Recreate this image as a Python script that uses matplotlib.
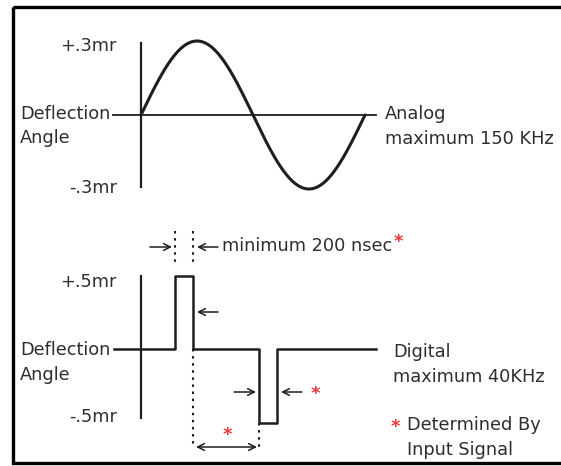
import numpy as np
import matplotlib
matplotlib.use("Agg")
import matplotlib.pyplot as plt
from matplotlib.patches import Rectangle

# analog signal: 150 kHz sine, +/-0.3 mr, one period (time in us)
analog_freq_khz = 150.0
analog_amp = 0.3
analog_t = np.linspace(0, 1000.0 / analog_freq_khz, 400)
analog_v = analog_amp * np.sin(2 * np.pi * analog_freq_khz / 1000.0 * analog_t)
analog_axis_t = [-0.83, 6.99]      # horizontal reference line
analog_axis_v = [-0.29, 0.29]      # vertical axis

# digital signal: step waveform (time in us, level in mr)
digital_t = [-0.30, 0.38, 0.38, 0.58, 0.58, 1.31, 1.31, 1.51, 1.51, 2.61]
digital_v = [0.0, 0.0, 0.5, 0.5, 0.0, 0.0, -0.5, -0.5, 0.0, 0.0]
digital_axis_v = [-0.47, 0.5]

fs = 12.8
tc = '#2e2e2e'
lc = '#1e1e1e'
red = '#e53838'

fig = plt.figure(figsize=(5.61, 4.66), dpi=100)

# pixel canvas for frame, labels and arrows
ax = fig.add_axes([0, 0, 1, 1])
ax.set_xlim(0, 561)
ax.set_ylim(466, 0)
ax.axis('off')


def panel(x0, y0, sx, sy):
    # axes whose data coordinates map onto the pixel canvas
    a = fig.add_axes([0, 0, 1, 1])
    a.set_xlim(-x0 / sx, (561 - x0) / sx)
    a.set_ylim((y0 - 466) / sy, y0 / sy)
    a.axis('off')
    a.patch.set_visible(False)
    return a


# top panel
axt = panel(141, 115, 33.6, 246.7)
axt.plot(analog_t, analog_v, color=lc, lw=2.2, solid_capstyle='round')
axt.plot(analog_axis_t, [0, 0], color=lc, lw=1.3)
axt.plot([0, 0], analog_axis_v, color=lc, lw=1.6)

# bottom panel
axb = panel(141, 349, 90.0, 147.0)
axb.plot(digital_t, digital_v, color=lc, lw=1.8)
axb.plot([0, 0], digital_axis_v, color=lc, lw=1.6)
dots = dict(color=lc, lw=1.5, ls=(0, (1.2, 2.2)))
axb.plot([0.38, 0.38], [0.80, 0.59], **dots)
axb.plot([0.58, 0.58], [0.80, 0.59], **dots)
axb.plot([0.58, 0.58], [0.0, -0.67], **dots)
axb.plot([1.31, 1.31], [-0.5, -0.67], **dots)

# frame
ax.add_patch(Rectangle((13.5, 6.5), 560, 456.5, fill=False, ec='black', lw=2.4))

# labels
def txt(x, y, s, ha='left', **kw):
    ax.text(x, y, s, ha=ha, va='center', fontsize=kw.pop('size', fs),
            color=kw.pop('color', tc), **kw)


txt(117, 46, '+.3mr', ha='right')
txt(117, 188, '-.3mr', ha='right')
txt(20, 114, 'Deflection')
txt(20, 138, 'Angle')
txt(385, 114, 'Analog')
txt(385, 139, 'maximum 150 KHz')

txt(222, 246, 'minimum 200 nsec')
txt(117, 282, '+.5mr', ha='right')
txt(117, 417, '-.5mr', ha='right')
txt(20, 350, 'Deflection')
txt(20, 375, 'Angle')
txt(393, 352, 'Digital')
txt(393, 377, 'maximum 40KHz')
txt(407, 425, 'Determined By')
txt(407, 450, 'Input Signal')

for x, y in [(398, 242), (315, 394), (227, 435), (395, 427)]:
    txt(x, y, '*', ha='center', color=red, size=13, fontweight='bold')

# arrows
arr = dict(arrowstyle='->', color=lc, lw=1.1, shrinkA=0, shrinkB=0,
           mutation_scale=12)
for (x1, y1), (x2, y2) in [((150, 247), (172, 247)),
                           ((218, 247), (197, 247)),
                           ((218, 312), (197, 312)),
                           ((234, 392), (256, 392)),
                           ((302, 392), (281, 392))]:
    ax.annotate('', xy=(x2, y2), xytext=(x1, y1), arrowprops=arr)
ax.annotate('', xy=(257, 447), xytext=(196, 447),
            arrowprops=dict(arr, arrowstyle='<->'))

fig.savefig('out.png', dpi=100)
